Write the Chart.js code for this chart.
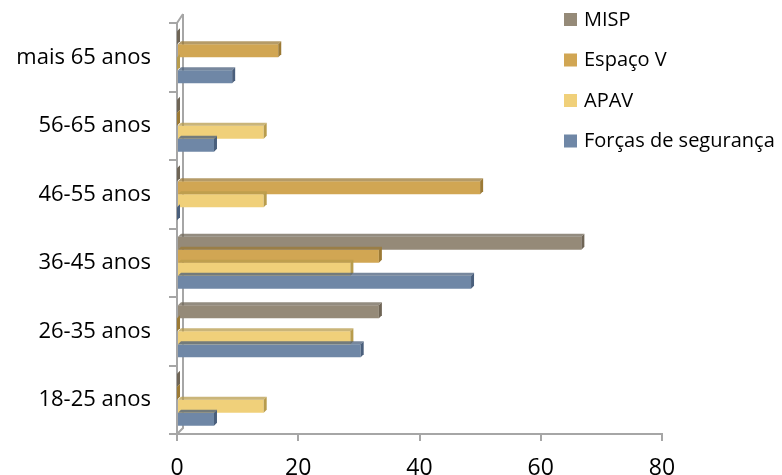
<!DOCTYPE html>
<html>
<head>
<meta charset="utf-8">
<script src="https://cdn.jsdelivr.net/npm/chart.js@4.4.1/dist/chart.umd.min.js"></script>
<style>
  html, body { margin: 0; padding: 0; background: #fff; }
  #wrap { width: 782px; height: 475px; position: relative; }
</style>
</head>
<body>
<div id="wrap"><canvas id="grafico"></canvas></div>
<script>
// faixas etarias (de cima para baixo)
var faixas = ['mais 65 anos', '56-65 anos', '46-55 anos', '36-45 anos', '26-35 anos', '18-25 anos'];

// valores de cada entidade (mesma ordem das faixas)
var misp = [0, 0, 0, 66.7, 33.3, 0];
var espacoV = [16.7, 0, 50, 33.3, 0, 0];
var apav = [0, 14.3, 14.3, 28.6, 28.6, 14.3];
var forcas = [9.1, 6.1, 0, 48.5, 30.3, 6.1];

var ticksX = [0, 20, 40, 60, 80];

var cores = {
    misp: ['#958A78', '#6f6556'],
    espaco: ['#D1A653', '#9c7a35'],
    apav: ['#F0D07A', '#b89c4c'],
    forcas: ['#6F87A6', '#4a5f7c']
};

var fonte = '"Open Sans", sans-serif';

// efeito 3D simples nas barras + parede de fundo
var profundidade = {
    id: 'profundidade',
    afterDatasetsDraw: function(chart) {
        var ctx = chart.ctx;
        var d = 3;
        chart.data.datasets.forEach(function(ds, i) {
            var meta = chart.getDatasetMeta(i);
            meta.data.forEach(function(bar) {
                var p = bar.getProps(['x', 'y', 'base', 'height'], true);
                var top = p.y - p.height / 2, bot = p.y + p.height / 2;
                ctx.save();
                ctx.fillStyle = ds.corEscura;
                ctx.globalAlpha = 0.75;
                ctx.beginPath();
                ctx.moveTo(p.base, top);
                ctx.lineTo(p.x, top);
                ctx.lineTo(p.x + d, top - d);
                ctx.lineTo(p.base + d, top - d);
                ctx.closePath();
                ctx.fill();
                ctx.globalAlpha = 1;
                ctx.beginPath();
                ctx.moveTo(p.x, top);
                ctx.lineTo(p.x + d, top - d);
                ctx.lineTo(p.x + d, bot - d);
                ctx.lineTo(p.x, bot);
                ctx.closePath();
                ctx.fill();
                ctx.restore();
            });
        });
    },
    beforeDatasetsDraw: function(chart) {
        var ctx = chart.ctx, a = chart.chartArea;
        ctx.save();
        ctx.strokeStyle = '#a6a6a6';
        ctx.lineWidth = 2;
        ctx.beginPath();
        ctx.moveTo(a.left + 6, a.top - 9);
        ctx.lineTo(a.left + 6, a.bottom - 6);
        ctx.lineTo(a.left, a.bottom);
        ctx.moveTo(a.left, a.top);
        ctx.lineTo(a.left + 6, a.top - 9);
        ctx.stroke();
        ctx.restore();
    }
};

// legenda desenhada a direita, por cima da area do grafico
var legenda = {
    id: 'legenda',
    afterDraw: function(chart) {
        var ctx = chart.ctx;
        ctx.save();
        ctx.font = '20px ' + fonte;
        ctx.textBaseline = 'middle';
        chart.data.datasets.forEach(function(ds, i) {
            var y = 20 + i * 40.5;
            ctx.fillStyle = ds.backgroundColor;
            ctx.fillRect(564, y - 7, 13, 13);
            ctx.fillStyle = '#000';
            ctx.fillText(ds.label, 584, y);
        });
        ctx.restore();
    }
};

var dados = {
    labels: faixas,
    datasets: [
        { label: 'MISP', data: misp, backgroundColor: cores.misp[0], corEscura: cores.misp[1] },
        { label: 'Espaço V', data: espacoV, backgroundColor: cores.espaco[0], corEscura: cores.espaco[1] },
        { label: 'APAV', data: apav, backgroundColor: cores.apav[0], corEscura: cores.apav[1] },
        { label: 'Forças de segurança', data: forcas, backgroundColor: cores.forcas[0], corEscura: cores.forcas[1] }
    ]
};

var options = {
    indexAxis: 'y',
    responsive: true,
    maintainAspectRatio: false,
    animation: false,
    layout: { padding: { top: 23, right: 120, left: 0, bottom: 0 } },
    datasets: { bar: { categoryPercentage: 0.76, barPercentage: 1.0 } },
    plugins: { legend: { display: false }, tooltip: { enabled: false } },
    scales: {
        x: {
            min: 0,
            max: 80,
            afterBuildTicks: function(scale) {
                scale.ticks = ticksX.map(function(v) { return { value: v }; });
            },
            afterFit: function(scale) {
                scale.height = 41;
                scale.paddingLeft = 0;
                scale.paddingRight = 0;
            },
            border: { color: '#a6a6a6', width: 2 },
            grid: { drawOnChartArea: false, color: '#a6a6a6', lineWidth: 2, tickLength: 7 },
            ticks: { color: '#000', padding: 14, font: { family: fonte, size: 23 } }
        },
        y: {
            afterFit: function(scale) {
                scale.width = 177;
                scale.paddingTop = 0;
                scale.paddingBottom = 0;
            },
            border: { color: '#a6a6a6', width: 2 },
            grid: { drawOnChartArea: false, color: '#a6a6a6', lineWidth: 2, tickLength: 8, offset: true },
            ticks: { color: '#000', padding: 18, font: { family: fonte, size: 22 } }
        }
    }
};

var ctx = document.querySelector('#grafico').getContext('2d');
var barChart = new Chart(ctx, {
    type: 'bar',
    data: dados,
    options: options,
    plugins: [profundidade, legenda]
});
</script>
</body>
</html>
